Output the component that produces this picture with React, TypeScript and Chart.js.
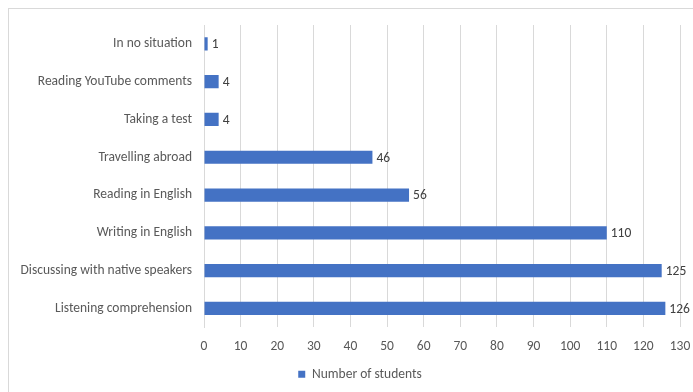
import React, { useEffect, useRef } from "react";
import { Chart, registerables } from "chart.js";

Chart.register(...registerables);

const categories = [
  "In no situation",
  "Reading YouTube comments",
  "Taking a test",
  "Travelling abroad",
  "Reading in English",
  "Writing in English",
  "Discussing with native speakers",
  "Listening comprehension",
];
const studentCounts = [1, 4, 4, 46, 56, 110, 125, 126];
const seriesName = "Number of students";
const xMin = 0;
const xMax = 130;
const xStep = 10;

const FONT = "Calibri, Carlito, Lato, sans-serif";
const FS = 13.5;

const dataLabelPlugin = {
  id: "dataLabels",
  afterDatasetsDraw(chart: any) {
    const ctx = chart.ctx;
    ctx.save();
    ctx.font = `${FS}px ${FONT}`;
    ctx.fillStyle = "#404040";
    ctx.textAlign = "left";
    ctx.textBaseline = "middle";
    chart.data.datasets.forEach((ds: any, di: number) => {
      const meta = chart.getDatasetMeta(di);
      meta.data.forEach((bar: any, i: number) => {
        ctx.fillText(String(ds.data[i]), bar.x + 4, bar.y + 1);
      });
    });
    ctx.restore();
  },
};

// The source chart is wider than the window; its legend is centred on the full chart area.
const legendShiftPlugin = {
  id: "legendShift",
  afterLayout(chart: any) {
    const lg = chart.legend;
    if (lg) {
      lg.left += 15.5;
      lg.right += 15.5;
    }
  },
};

export default function App() {
  const ref = useRef<HTMLCanvasElement>(null);
  useEffect(() => {
    if (!ref.current) return;
    const chart = new Chart(ref.current, {
      type: "bar",
      data: {
        labels: categories,
        datasets: [
          {
            label: seriesName,
            data: studentCounts,
            backgroundColor: "#4472C4",
            borderWidth: 0,
            barPercentage: 0.35,
            categoryPercentage: 1,
          },
        ],
      },
      options: {
        indexAxis: "y",
        animation: false,
        responsive: false,
        maintainAspectRatio: false,
        layout: { padding: { left: 0, right: 13, top: 16, bottom: 1 } },
        plugins: {
          title: { display: false },
          tooltip: { enabled: false },
          legend: {
            position: "bottom",
            labels: {
              boxWidth: 7,
              boxHeight: 7,
              color: "#595959",
              font: { family: FONT, size: FS },
              padding: 2,
            },
          },
        },
        scales: {
          x: {
            min: xMin,
            max: xMax,
            ticks: {
              stepSize: xStep,
              color: "#595959",
              font: { family: FONT, size: FS },
              padding: 11,
            },
            grid: { color: "#d9d9d9", drawTicks: false },
            border: { display: false },
            afterFit(scale: any) {
              scale.paddingLeft = 0;
              scale.paddingRight = 0;
            },
          },
          y: {
            ticks: {
              color: "#595959",
              font: { family: FONT, size: FS },
              padding: 12,
            },
            grid: { display: false, drawTicks: false },
            border: { display: true, color: "#d9d9d9" },
            afterFit(scale: any) {
              scale.width = 195;
              scale.paddingTop = 0;
              scale.paddingBottom = 0;
            },
          },
        },
      },
      plugins: [dataLabelPlugin, legendShiftPlugin],
    });
    return () => chart.destroy();
  }, []);
  return (
    <div
      style={{
        position: "fixed",
        left: 8,
        top: 8,
        width: 685,
        height: 384,
        overflow: "hidden",
        borderTop: "1px solid #d9d9d9",
        borderLeft: "1px solid #d9d9d9",
        boxSizing: "border-box",
        background: "#fff",
      }}
    >
      <canvas ref={ref} width={684} height={383} style={{ display: "block" }} />
    </div>
  );
}
